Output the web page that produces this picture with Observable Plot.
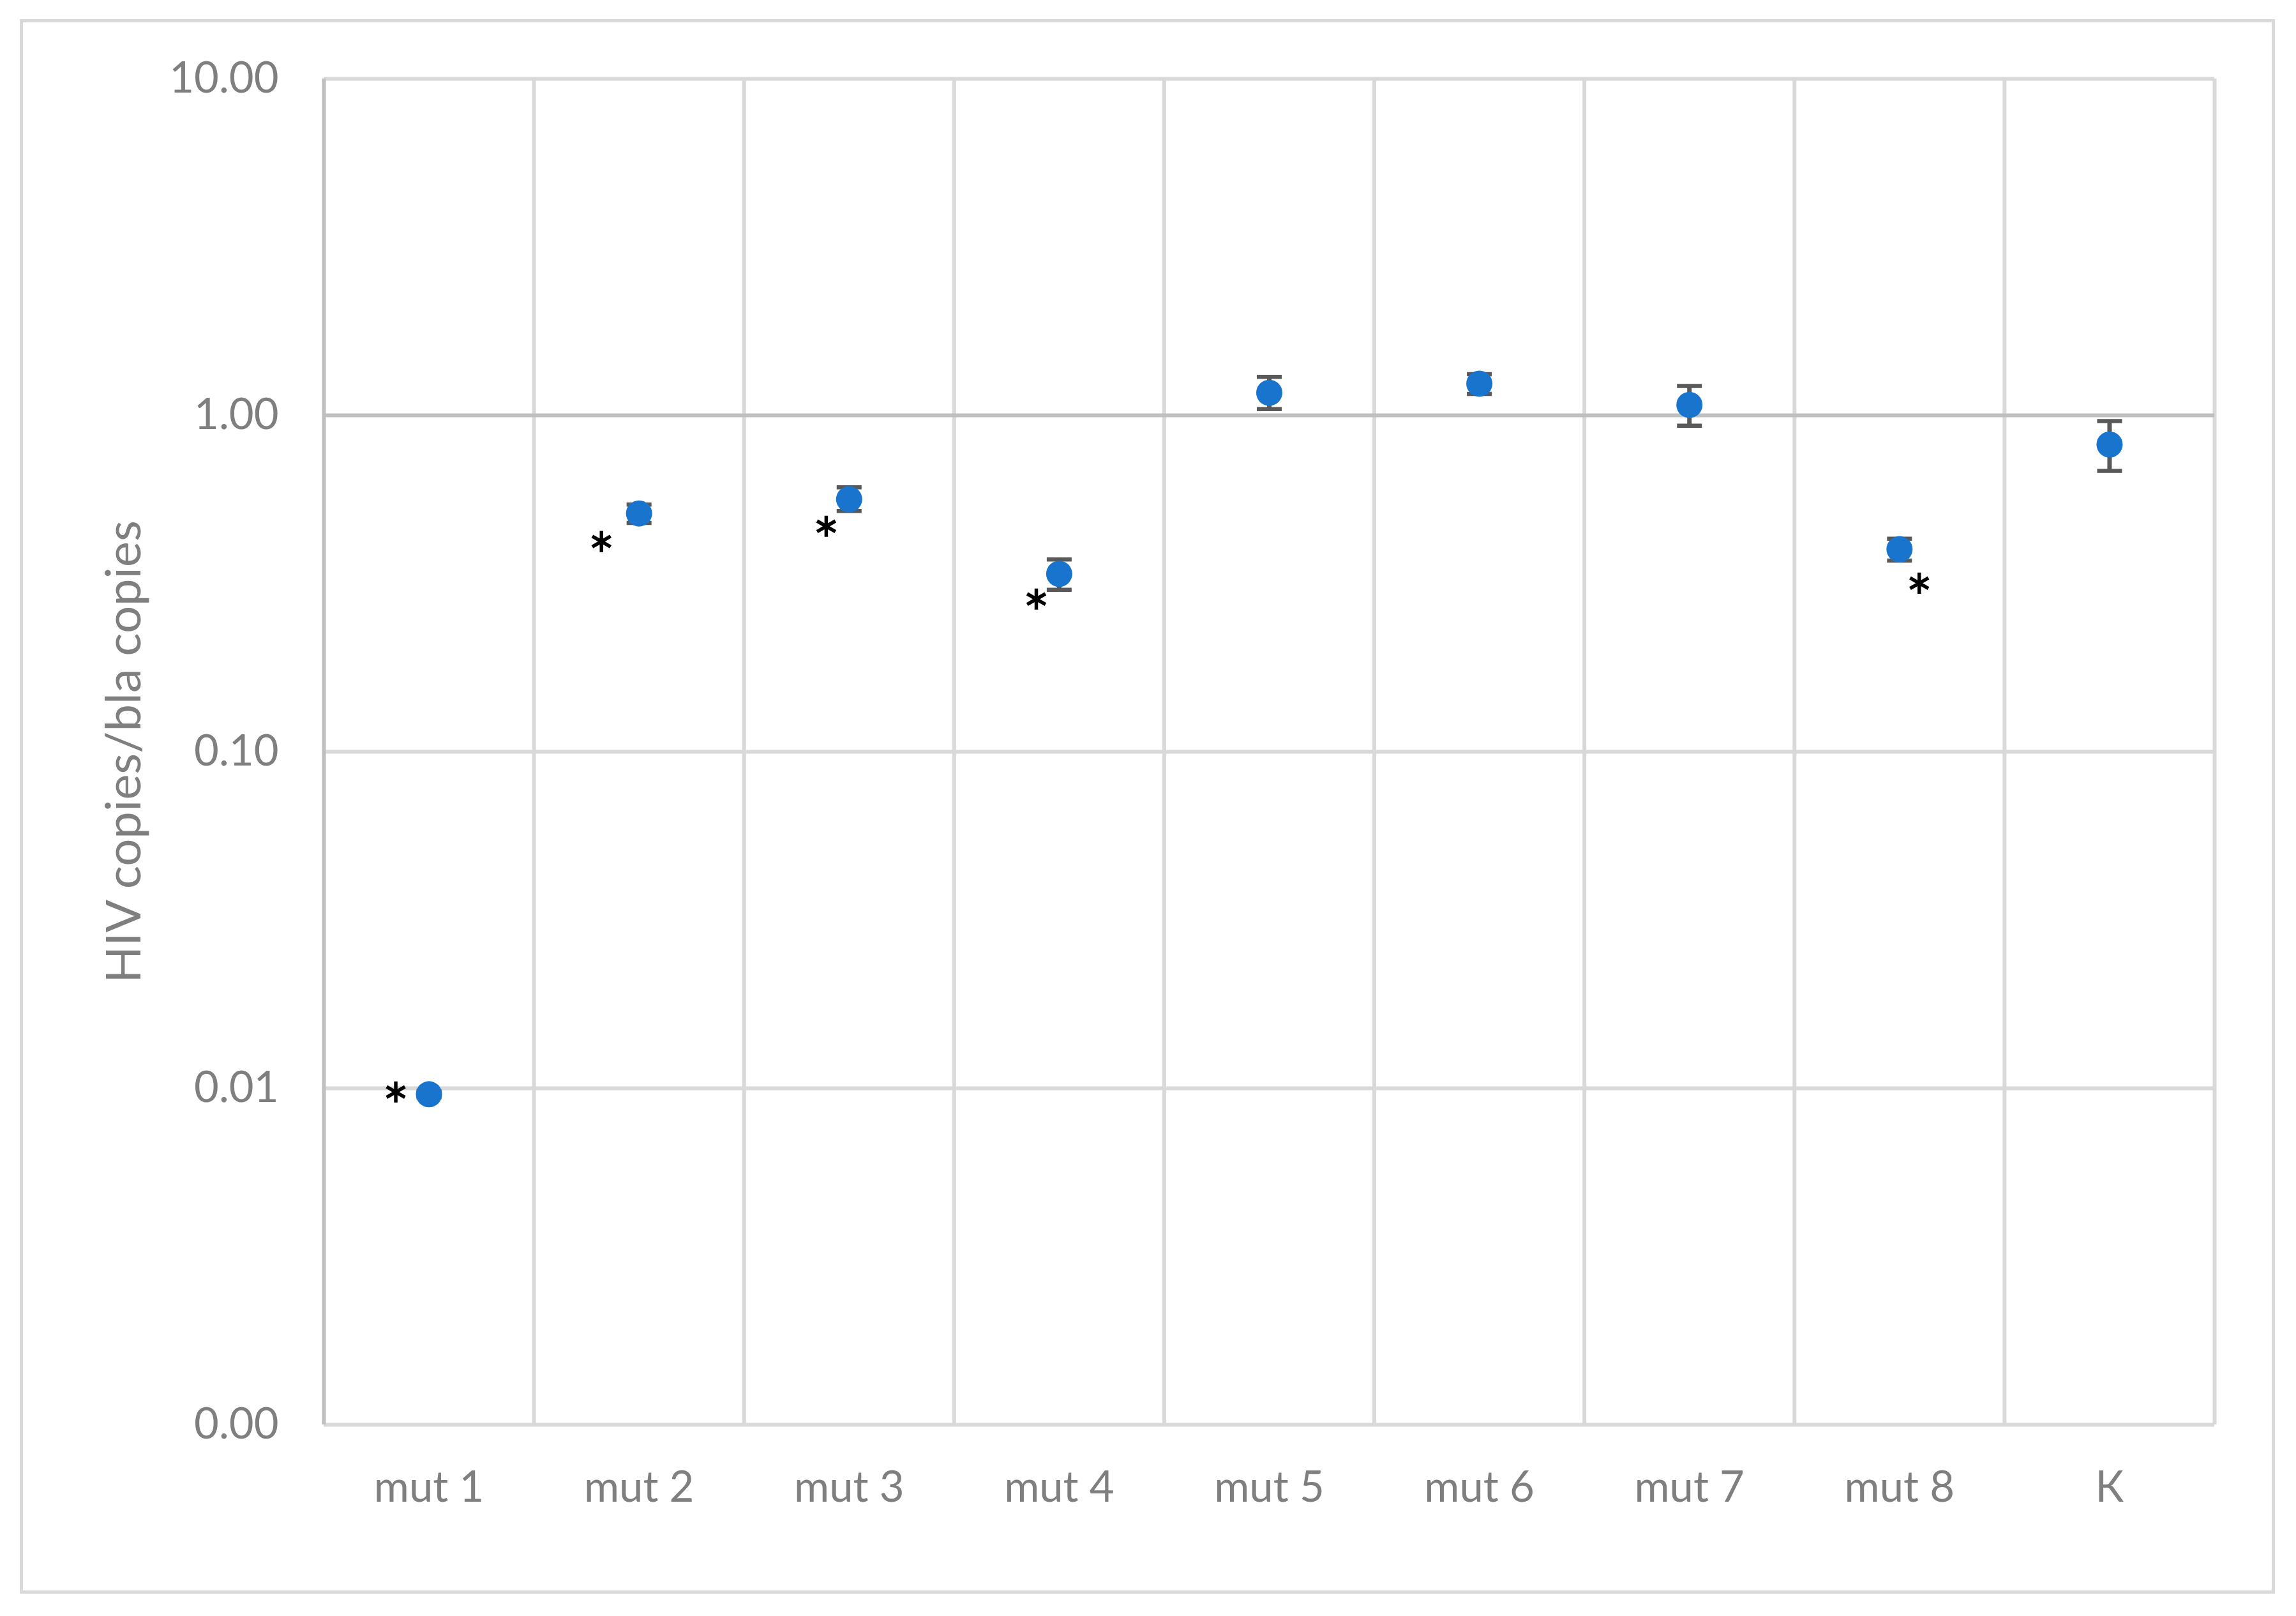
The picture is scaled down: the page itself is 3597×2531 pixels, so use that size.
<!DOCTYPE html>
<html>
<head>
<meta charset="utf-8">
<script src="https://cdn.jsdelivr.net/npm/d3@7"></script>
<script src="https://cdn.jsdelivr.net/npm/@observablehq/plot@0.6"></script>
<style>
  html, body { margin: 0; padding: 0; background: #ffffff; }
  #wrap { position: relative; width: 3597px; height: 2531px; background: #ffffff; }
  #wrap svg { position: absolute; left: 0; top: 0; }
  #border { position: absolute; left: 31px; top: 30px; width: 3533px; height: 2466px;
            box-sizing: border-box; border: 5px solid #d9d9d9; pointer-events: none; }
</style>
</head>
<body>
<div id="wrap"><div id="border"></div></div>
<script>
// ---- data ----
const categories = ["mut 1", "mut 2", "mut 3", "mut 4", "mut 5", "mut 6", "mut 7", "mut 8", "К"];
const means = [0.0096, 0.511, 0.563, 0.338, 1.167, 1.242, 1.074, 0.400, 0.819];
const upper = [0.0098, 0.543, 0.611, 0.373, 1.301, 1.326, 1.223, 0.430, 0.961];
const lower = [0.0094, 0.479, 0.520, 0.303, 1.043, 1.158, 0.931, 0.370, 0.684];
const yTicks = [0.001, 0.01, 0.1, 1, 10];
const yTitle = "HIV copies/bla copies";
// significance asterisks: category, value on the y axis, offset within the category band
const starCategories = ["mut 1", "mut 2", "mut 3", "mut 4", "mut 8"];
const starValues = [0.00975, 0.4217, 0.468, 0.2844, 0.3171];
const starBandOffsets = [-0.158, -0.179, -0.109, -0.109, 0.094];

// ---- derived tables ----
const rows = categories.map((c, i) => ({i, c, mean: means[i], lo: lower[i], hi: upper[i]}));
const stars = starCategories.map((c, k) => ({
  x: categories.indexOf(c) + 0.5 + starBandOffsets[k],
  v: starValues[k]
}));
const xc = d => d.i + 0.5;

const capSymbol = {
  draw(context, size) {
    const r = Math.sqrt(size / Math.PI);
    context.moveTo(-r, 0);
    context.lineTo(r, 0);
  }
};

const gray = "#7f7f7f";
const chart = Plot.plot({
  width: 3597,
  height: 2531,
  marginLeft: 507,
  marginRight: 128,
  marginTop: 123,
  marginBottom: 300,
  style: {fontFamily: "Lato, 'Open Sans', sans-serif", fontSize: "67px", color: gray, background: "transparent", overflow: "visible"},
  x: {type: "linear", domain: [0, categories.length], axis: null},
  y: {type: "log", domain: [yTicks[0], yTicks[yTicks.length - 1]], axis: null},
  marks: [
    // grid
    Plot.ruleX(d3.range(1, categories.length + 1), {stroke: "#d9d9d9", strokeWidth: 6}),
    Plot.ruleY(yTicks.filter(v => v !== 1), {stroke: "#d9d9d9", strokeWidth: 6}),
    // axis lines
    Plot.ruleY([1], {stroke: "#bfbfbf", strokeWidth: 6}),
    Plot.ruleX([0], {stroke: "#bfbfbf", strokeWidth: 6}),
    // axes
    Plot.axisX(categories.map((c, i) => i + 0.5), {
      tickFormat: d => categories[Math.floor(d)], tickSize: 0, tickPadding: 73,
      fontSize: 67, fill: gray, label: null
    }),
    Plot.axisY(yTicks, {
      tickFormat: d3.format(".2f"), tickSize: 0, tickPadding: 71,
      fontSize: 67, fill: gray, label: null
    }),
    Plot.text([yTitle], {
      text: d => d, frameAnchor: "left", dx: -312, rotate: -90,
      textAnchor: "middle", lineAnchor: "middle",
      fontSize: 76, fill: gray
    }),
    // error bars
    Plot.ruleX(rows, {x: xc, y1: "lo", y2: "hi", stroke: "#595959", strokeWidth: 7}),
    Plot.dot(rows, {x: xc, y: "hi", symbol: capSymbol, r: 19.5, fill: "none", stroke: "#595959", strokeWidth: 6.5}),
    Plot.dot(rows, {x: xc, y: "lo", symbol: capSymbol, r: 19.5, fill: "none", stroke: "#595959", strokeWidth: 6.5}),
    // means
    Plot.dot(rows, {x: xc, y: "mean", r: 20.5, fill: "#1874cd"}),
    // asterisks
    Plot.dot(stars, {x: "x", y: "v", symbol: "asterisk", r: 15.7, stroke: "#000000", strokeWidth: 5.5})
  ]
});
document.getElementById("wrap").prepend(chart);
</script>
</body>
</html>
